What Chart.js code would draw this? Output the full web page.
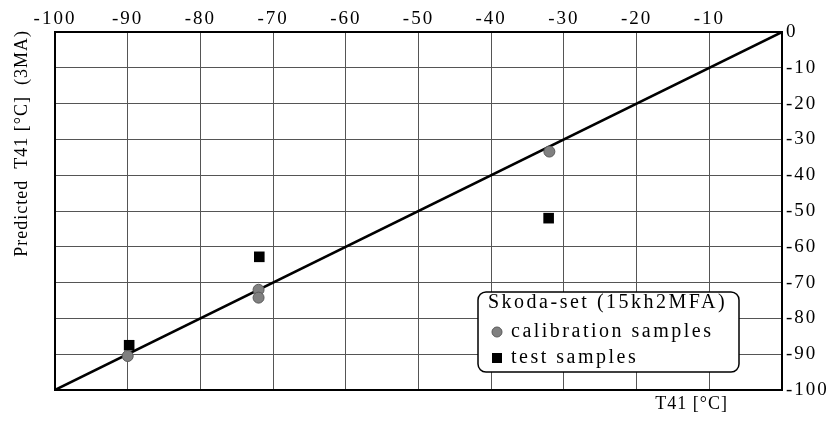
<!DOCTYPE html>
<html>
<head>
<meta charset="utf-8">
<script src="https://cdn.jsdelivr.net/npm/chart.js@4/dist/chart.umd.min.js"></script>
<style>
  html, body { margin: 0; padding: 0; background: #fff; }
  #wrap { width: 831px; height: 421px; }
</style>
</head>
<body>
<div id="wrap"><canvas id="chart" width="831" height="421"></canvas></div>
<script>
// values
const calibX = [-90, -72, -72, -32];
const calibY = [-90.5, -72, -74.2, -33.4];
const testX = [-89.8, -71.9, -32.1];
const testY = [-87.5, -62.8, -52];
const idealX = [-100, 0];
const idealY = [-100, 0];
const legendTitle = 'Skoda-set (15kh2MFA)';
const xTitle = 'T41 [°C]';
const yTitle = 'Predicted  T41 [°C]  (3MA)';

const FONT = '"Liberation Serif", "Times New Roman", serif';

function pts(xs, ys) {
    return xs.map((x, i) => ({x: x, y: ys[i]}));
}

const framePlugin = {
    id: 'frame',
    beforeDraw(chart) {
        chart.ctx.letterSpacing = '2px';
    },
    afterDraw(chart) {
        const ctx = chart.ctx;
        const a = chart.chartArea;
        ctx.save();
        ctx.strokeStyle = '#000';
        ctx.lineWidth = 2;
        ctx.strokeRect(a.left, a.top, a.right - a.left, a.bottom - a.top);

        // axis titles
        ctx.fillStyle = '#000';
        ctx.font = '18px ' + FONT;
        ctx.letterSpacing = '1px';
        ctx.textBaseline = 'middle';
        ctx.textAlign = 'right';
        ctx.fillText(xTitle, 728, 404);
        ctx.save();
        ctx.translate(22, 30);
        ctx.rotate(-Math.PI / 2);
        ctx.textAlign = 'right';
        ctx.fillText(yTitle, 0, 0);
        ctx.restore();

        // legend box
        const bx = 478, by = 292, bw = 261, bh = 80;
        ctx.beginPath();
        ctx.roundRect(bx, by, bw, bh, 8);
        ctx.fillStyle = '#fff';
        ctx.fill();
        ctx.lineWidth = 1.5;
        ctx.strokeStyle = '#000';
        ctx.stroke();

        ctx.fillStyle = '#000';
        ctx.font = '20px ' + FONT;
        ctx.letterSpacing = '2.5px';
        ctx.textAlign = 'left';
        ctx.fillText(legendTitle, bx + 10, by + 11);

        const sets = chart.data.datasets.filter(d => d.showInLegend);
        sets.forEach((ds, i) => {
            const cy = by + 40 + i * 26;
            ctx.fillStyle = ds.backgroundColor;
            ctx.strokeStyle = ds.borderColor;
            ctx.lineWidth = 1;
            if (ds.pointStyle === 'rect') {
                ctx.fillRect(bx + 14, cy - 5, 10, 10);
            } else {
                ctx.beginPath();
                ctx.arc(bx + 19, cy, 5, 0, Math.PI * 2);
                ctx.fill();
                ctx.stroke();
            }
            ctx.fillStyle = '#000';
            ctx.fillText(ds.label, bx + 33, cy);
        });
        ctx.restore();
    }
};

new Chart(document.getElementById('chart').getContext('2d'), {
    type: 'scatter',
    data: {
        datasets: [{
            label: 'calibration samples',
            data: pts(calibX, calibY),
            backgroundColor: '#808080',
            borderColor: '#5a5a5a',
            borderWidth: 1,
            pointRadius: 5.5,
            showInLegend: true,
            order: 1
        }, {
            label: 'test samples',
            data: pts(testX, testY),
            pointStyle: 'rect',
            backgroundColor: '#000',
            borderColor: '#000',
            borderWidth: 0,
            pointRadius: 7.5,
            showInLegend: true,
            order: 2
        }, {
            type: 'line',
            label: 'ideal',
            data: pts(idealX, idealY),
            borderColor: '#000',
            borderWidth: 2.5,
            pointRadius: 0,
            fill: false,
            order: 3
        }]
    },
    options: {
        responsive: false,
        animation: false,
        layout: { padding: { left: 55, bottom: 31, top: 0, right: 0 } },
        plugins: {
            legend: { display: false },
            tooltip: { enabled: false }
        },
        scales: {
            x: {
                type: 'linear',
                position: 'top',
                min: -100,
                max: 0,
                afterFit: (s) => { s.height = 32; },
                ticks: {
                    stepSize: 10,
                    color: '#000',
                    padding: 2,
                    font: { family: FONT, size: 19 },
                    callback: (v) => v === 0 ? '' : v
                },
                grid: { color: '#555', lineWidth: 1, drawTicks: false },
                border: { color: '#000', width: 2 }
            },
            y: {
                type: 'linear',
                position: 'right',
                min: -100,
                max: 0,
                afterFit: (s) => { s.width = 49; },
                ticks: {
                    stepSize: 10,
                    color: '#000',
                    padding: 4,
                    font: { family: FONT, size: 19 }
                },
                grid: { color: '#555', lineWidth: 1, drawTicks: false },
                border: { color: '#000', width: 2 }
            }
        }
    },
    plugins: [framePlugin]
});
</script>
</body>
</html>
